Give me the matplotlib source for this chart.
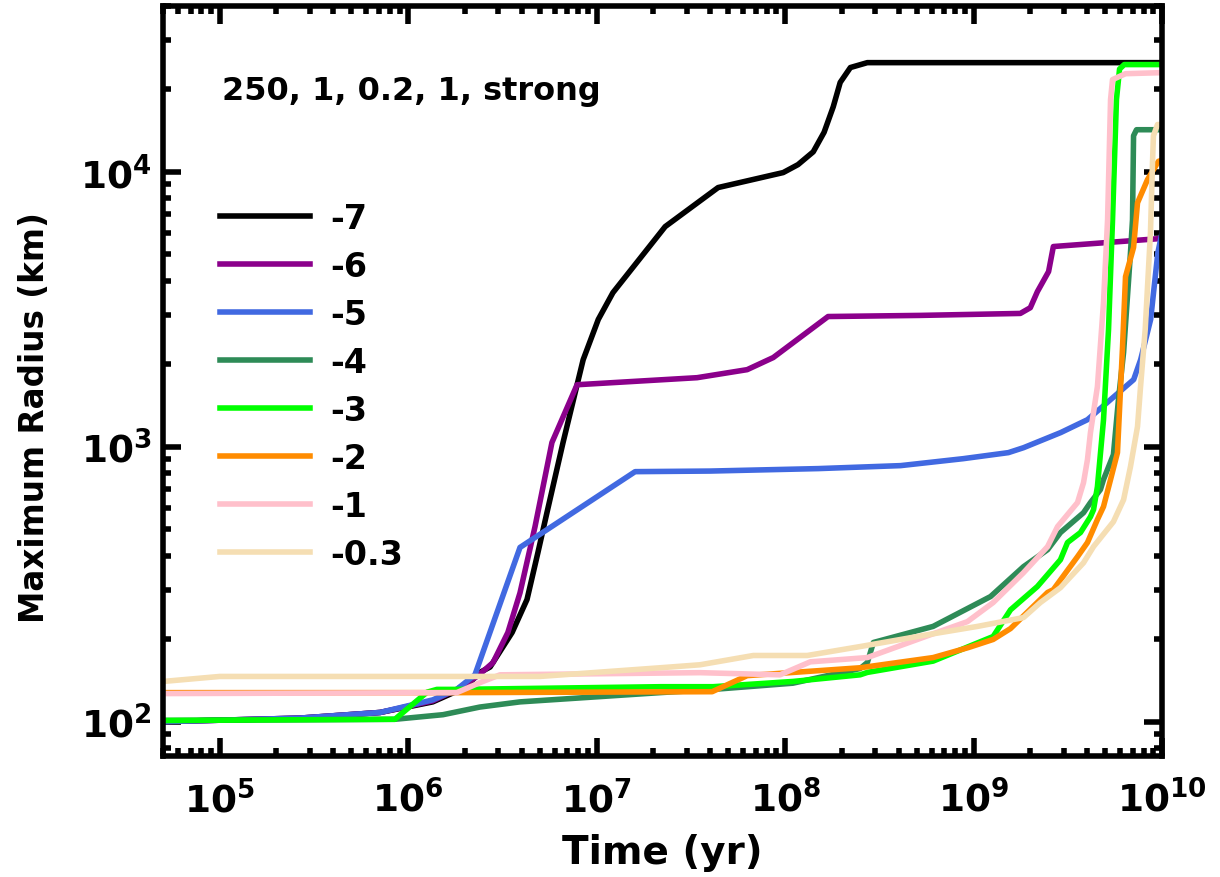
import matplotlib
matplotlib.use('Agg')
import matplotlib.pyplot as plt
from matplotlib.ticker import LogLocator, FuncFormatter, NullFormatter
import numpy as np

plt.rcParams['font.family'] = ['DejaVu Sans']
plt.rcParams['font.weight'] = 'bold'
plt.rcParams['axes.labelweight'] = 'bold'
plt.rcParams['mathtext.fontset'] = 'dejavusans'

labels = ['-7', '-6', '-5', '-4', '-3', '-2', '-1', '-0.3']
colors = ['black', '#8B008B', 'royalblue', 'seagreen', 'lime', 'darkorange', 'pink', 'wheat']

t_m7 = [5e4, 2.66e5, 7.1e5, 1.35e6, 2.0e6, 2.4e6, 2.72e6, 3.56e6, 4.27e6, 4.88e6, 5.45e6, 6.63e6, 8.48e6,
        1.02e7, 1.22e7, 2.31e7, 4.41e7, 9.77e7, 1.17e8, 1.41e8, 1.61e8, 1.8e8, 1.96e8, 2.22e8, 2.73e8, 1e10]
r_m7 = [100, 103, 108, 118, 133, 151, 158, 211, 278, 412, 576, 1034, 2070,
        2900, 3630, 6310, 8750, 9920, 10600, 11800, 13900, 17200, 21100, 23900, 24900, 24900]

t_m6 = [5e4, 2.66e5, 7.1e5, 1.35e6, 1.81e6, 2.32e6, 2.82e6, 3.38e6, 3.92e6, 4.71e6, 5.79e6, 7.87e6,
        3.41e7, 6.29e7, 8.65e7, 1.69e8, 5.2e8, 1.77e9, 2.0e9, 2.18e9, 2.5e9, 2.65e9, 9.47e9, 1e10]
r_m6 = [100, 103, 108, 119, 131, 146, 164, 211, 294, 512, 1035, 1679,
        1781, 1905, 2108, 2972, 3000, 3050, 3200, 3660, 4330, 5340, 5700, 5750]

t_m5 = [5e4, 2.66e5, 7.1e5, 1.35e6, 1.81e6, 2.26e6, 3.92e6, 1.6e7, 4e7, 1.5e8, 4.1e8, 8.8e8, 1.53e9,
        1.84e9, 2.9e9, 4.02e9, 5.33e9, 7.07e9, 7.7e9, 8.7e9, 9.5e9, 1e10]
r_m5 = [100, 103, 108, 120, 131, 148, 430, 811, 815, 832, 853, 904, 951,
        991, 1125, 1253, 1482, 1753, 2071, 2900, 5070, 6000]

t_m4 = [5e4, 8.5e5, 1.53e6, 2.4e6, 3.92e6, 2.17e7, 4.15e7, 1.1e8, 2.5e8, 2.73e8, 2.94e8, 6.1e8, 1.23e9,
        1.84e9, 2.47e9, 2.89e9, 3.83e9, 4.17e9, 4.71e9, 4.89e9, 5.52e9, 5.87e9, 6.25e9, 6.8e9, 6.97e9,
        7.06e9, 7.32e9, 1e10]
r_m4 = [101, 102, 106, 113, 118, 127.5, 131, 138, 156, 164, 194, 222, 285,
        366, 422, 487, 575, 626, 698, 759, 935, 1480, 2200, 5070, 6680,
        13500, 14200, 14200]

t_m3 = [5e4, 8.5e5, 1.26e6, 1.42e6, 1.8e6, 2.2e7, 4.15e7, 1.1e8, 2.5e8, 2.73e8, 6.1e8, 1.27e9, 1.57e9,
        2.18e9, 2.89e9, 3.15e9, 3.69e9, 4.17e9, 4.33e9, 4.54e9, 4.89e9, 5.2e9, 5.46e9, 5.73e9, 5.95e9,
        6.3e9, 1e10]
r_m3 = [101, 102, 128, 131, 131, 134, 134, 140, 148, 151, 166, 204, 255,
        310, 388, 448, 487, 556, 590, 715, 1250, 2665, 6680, 18300, 23600,
        24500, 24500]

t_m2 = [5e4, 1.81e6, 4.1e7, 6.29e7, 2.5e8, 6.1e8, 9.4e8, 1.27e9, 1.57e9, 2.47e9, 2.65e9, 3.56e9,
        4.02e9, 4.54e9, 4.89e9, 5.33e9, 5.8e9, 6.17e9, 6.4e9, 7.06e9, 7.41e9, 8.37e9, 9.57e9, 1e10]
r_m2 = [127.5, 127.5, 128.5, 147, 157, 171, 186, 199, 218, 295, 302, 398,
        448, 543, 605, 759, 951, 2300, 4150, 5300, 7700, 9350, 10900, 11000]

t_m1 = [5e4, 1.81e6, 2.4e6, 3.07e6, 3.54e7, 9.4e7, 1.36e8, 2.73e8, 5.9e8, 9.27e8, 1.27e9, 1.84e9,
        2.47e9, 2.79e9, 3.56e9, 3.83e9, 4.02e9, 4.17e9, 4.54e9, 4.89e9, 5.14e9, 5.33e9, 5.46e9, 6.4e9, 1e10]
r_m1 = [126.5, 127.5, 138.6, 148, 150.7, 148, 165, 171, 207, 231, 271, 348,
        433, 512, 626, 739, 897, 1125, 1653, 3340, 6680, 18270, 21600, 22700, 22900]

t_m03 = [5e4, 1e5, 2.32e6, 5e6, 2.17e7, 3.54e7, 6.78e7, 1.31e8, 2.5e8, 5.69e8, 1.05e9, 1.84e9, 2.26e9,
         2.89e9, 3.83e9, 4.33e9, 5.52e9, 6.25e9, 6.8e9, 7.41e9, 7.69e9, 8.14e9, 8.68e9, 8.9e9, 9.0e9,
         9.46e9, 1e10]
r_m03 = [140, 146, 146, 146, 157, 161, 174, 174, 187.5, 207, 222, 239, 271,
         307, 378, 433, 533, 641, 846, 1183, 1653, 2665, 6000, 10800, 13500,
         14830, 14830]

times = [t_m7, t_m6, t_m5, t_m4, t_m3, t_m2, t_m1, t_m03]
radii = [r_m7, r_m6, r_m5, r_m4, r_m3, r_m2, r_m1, r_m03]

annotation = '250, 1, 0.2, 1, strong'

fig = plt.figure(figsize=(12.2, 8.78), dpi=100)
ax = fig.add_axes([0.1336, 0.1378, 0.8189, 0.8542])

for t, r, c, lab in zip(times, radii, colors, labels):
    ax.plot(t, r, color=c, lw=4, label=lab, solid_joinstyle='round')

ax.set_xscale('log')
ax.set_yscale('log')
ax.set_xlim(5e4, 1e10)
ax.set_ylim(75, 4e4)

fmt = FuncFormatter(lambda v, p: r'$\mathbf{10^{%d}}$' % int(round(np.log10(v))))
ax.xaxis.set_major_locator(LogLocator(base=10, numticks=20))
ax.yaxis.set_major_locator(LogLocator(base=10, numticks=20))
ax.xaxis.set_minor_locator(LogLocator(base=10, subs=np.arange(2, 10), numticks=100))
ax.yaxis.set_minor_locator(LogLocator(base=10, subs=np.arange(2, 10), numticks=100))
ax.xaxis.set_major_formatter(fmt)
ax.yaxis.set_major_formatter(fmt)
ax.xaxis.set_minor_formatter(NullFormatter())
ax.yaxis.set_minor_formatter(NullFormatter())

ax.tick_params(which='both', direction='in', top=True, right=True, width=4)
ax.tick_params(which='major', length=13, labelsize=27)
ax.tick_params(axis='x', which='major', pad=17)
ax.tick_params(axis='y', which='major', pad=8)
ax.tick_params(which='minor', length=6)
for s in ax.spines.values():
    s.set_linewidth(4)

ax.set_xlabel('Time (yr)', fontsize=28, fontweight='bold', labelpad=10)
ax.set_ylabel('Maximum Radius (km)', fontsize=23.5, fontweight='bold')
ax.yaxis.set_label_coords(-0.112, 0.452)

ax.text(0.059, 0.876, annotation, transform=ax.transAxes, fontsize=23,
        fontweight='bold', ha='left', va='baseline')

leg = ax.legend(loc='upper left', bbox_to_anchor=(0.0437, 0.757), frameon=False,
                fontsize=24, handlelength=2.7, handletextpad=0.62, labelspacing=0.45,
                borderaxespad=0)
for line in leg.get_lines():
    line.set_linewidth(4)

fig.savefig('out.png', dpi=100)
